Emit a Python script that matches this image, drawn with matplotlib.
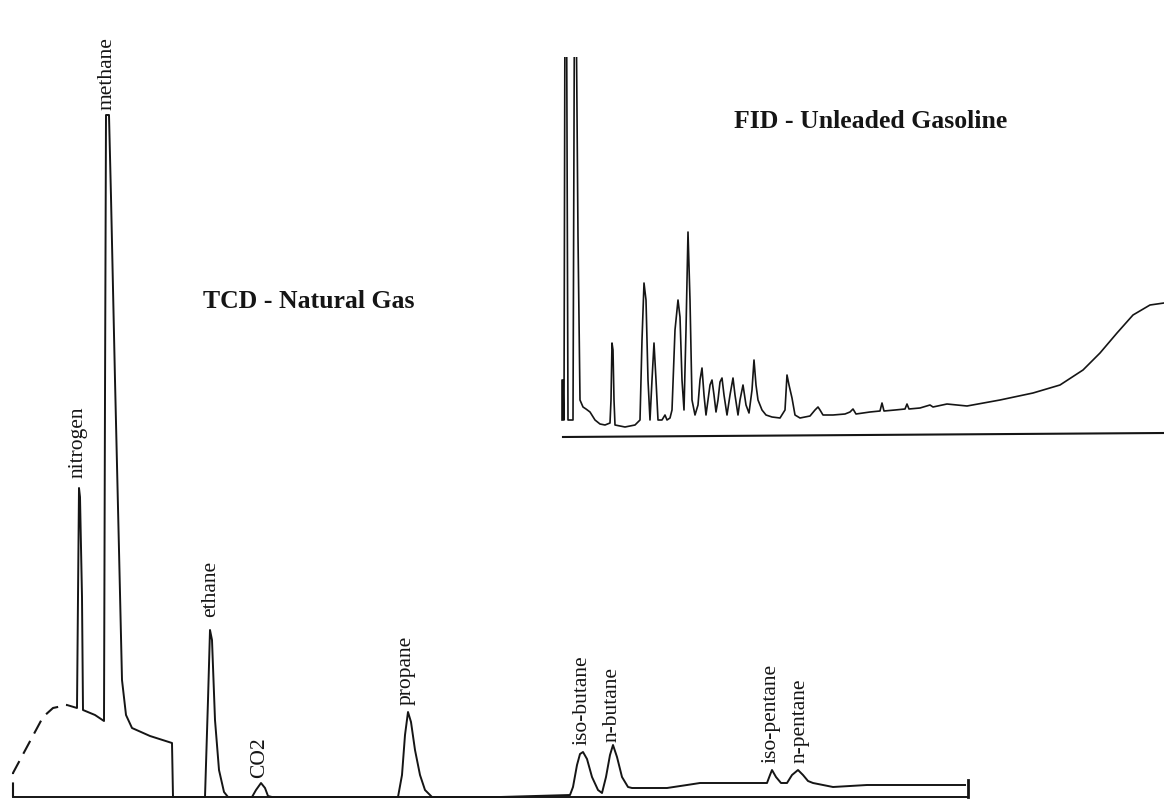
import matplotlib
matplotlib.use("Agg")
import matplotlib.pyplot as plt

# ── TCD - Natural Gas: trace (retention, signal above baseline) ──
tcd_t = [13, 13, 43, 53, 67, 77, 78, 79, 80, 82, 83, 95, 104, 105, 106,
         109, 111, 115, 119, 122, 126, 132, 150, 172, 173, 205, 208, 210,
         212, 215, 219, 224, 228, 252, 256, 261, 265, 268, 272, 398, 402,
         405, 408, 411, 415, 420, 425, 432, 500, 570, 573, 577, 580, 583,
         587, 592, 598, 602, 606, 610, 613, 617, 622, 628, 632, 667, 687,
         700, 767, 770, 772, 776, 781, 787, 792, 798, 803, 808, 813, 833,
         867, 900, 965]
tcd_s = [0, 24, 80, 89, 92, 89, 200, 309, 300, 200, 87, 82, 76, 400, 682,
         682, 600, 417, 247, 117, 82, 69, 61, 54, 0, 0, 97, 167,
         157, 77, 27, 5, 0, 0, 7, 14, 9, 1, 0, 0, 22,
         62, 85, 75, 47, 22, 7, 0, 0, 2, 10, 32, 43, 45,
         38, 20, 7, 4, 20, 42, 52, 40, 20, 10, 9, 9, 12,
         14, 14, 22, 27, 20, 14, 14, 22, 27, 22, 16, 14, 10,
         12, 12, 12]

# reference line under the TCD trace
ref_t = [13, 968]
ref_s = [0, 0]

# peak labels
peak_names = ["nitrogen", "methane", "ethane", "CO2", "propane",
              "iso-butane", "n-butane", "iso-pentane", "n-pentane"]
peak_x = [78, 107, 211, 260, 406, 582, 612, 771, 800]
label_s = [319, 687, 180, 19, 92, 52, 55, 34, 34]

# ── FID - Unleaded Gasoline: trace ──
fid_t = [562, 562, 563, 563.5, 564, 565, 566.5, 568, 573, 574.5, 576,
         578, 580, 583, 586, 590, 595, 600, 605, 610, 611, 612, 613, 614,
         615, 625, 635, 640, 642, 644, 646, 648, 650, 652, 654, 656, 658,
         662, 665, 667, 670, 672, 675, 678, 680, 682, 684, 686, 688, 690,
         692, 695, 698, 700, 702, 704, 706, 708, 710, 712, 714, 716, 718,
         720, 722, 724, 727, 730, 733, 735, 738, 740, 743, 746, 749, 752,
         754, 756, 758, 762, 766, 772, 780, 785, 787, 789, 792, 795, 800,
         810, 815, 818, 820, 823, 833, 845, 850, 853, 856, 870, 880, 882,
         884, 895, 905, 907, 909, 920, 930, 933, 947, 967, 1000, 1033,
         1060, 1083, 1100, 1117, 1133, 1150, 1164]
fid_s = [17, 57, 57, 17, 17, 450, 450, 17, 17, 450, 450,
         200, 37, 30, 28, 25, 17, 13, 12, 14, 37, 94, 87, 37,
         12, 10, 12, 17, 97, 154, 137, 57, 17, 57, 94, 57, 17,
         17, 22, 17, 19, 27, 107, 137, 120, 57, 27, 107, 205, 137,
         37, 22, 32, 57, 69, 42, 22, 37, 52, 57, 42, 25, 37,
         55, 59, 42, 22, 42, 59, 42, 22, 37, 52, 32, 24, 47,
         77, 52, 37, 27, 22, 20, 19, 27, 62, 52, 39, 22, 19,
         21, 27, 30, 27, 22, 22, 23, 25, 28, 23, 25, 26, 34,
         26, 27, 28, 33, 28, 29, 32, 30, 33, 31, 37, 44,
         52, 67, 84, 104, 122, 132, 134]

# FID time axis line (slightly tilted in the scan)
fid_axis_t = [563, 1164]
fid_axis_s = [0, 4]

INK = "#151515"
SERIF = ["Liberation Serif", "DejaVu Serif"]

fig = plt.figure(figsize=(11.64, 8.08), dpi=100)
fig.patch.set_facecolor("white")

# Hauptdiagramm (TCD)
ax = fig.add_axes([0, 0, 1, 1])
ax.set_xlim(0, 1164)
ax.set_ylim(-11, 797)
ax.axis("off")

ax.plot(tcd_t[:5], tcd_s[:5], color=INK, lw=1.5, ls=(0, (7, 4)))
ax.plot(tcd_t[4:], tcd_s[4:], color=INK, lw=1.4)
ax.plot(ref_t, ref_s, color=INK, lw=1.4)
ax.plot([ref_t[-1], ref_t[-1]], [ref_s[-1], tcd_s[-1] + 5], color=INK, lw=2)

for name, x, s in zip(peak_names, peak_x, label_s):
    ax.text(x, s, name, rotation=90, ha="center", va="bottom",
            fontsize=15.5, family=SERIF, color=INK)

ax.text(309, 495, "TCD - Natural Gas", ha="center", va="center",
        fontsize=18.5, fontweight="bold", family=SERIF, color=INK)

# Einsatz (FID)
ax2 = fig.add_axes([555 / 1164, (808 - 445) / 808, 609 / 1164, 388 / 808])
ax2.set_xlim(555, 1164)
ax2.set_ylim(-8, 380)
ax2.axis("off")
ax2.plot(fid_t, fid_s, color=INK, lw=1.2)
ax2.plot(fid_axis_t, fid_axis_s, color=INK, lw=1.5)

ax.text(871, 675, "FID - Unleaded Gasoline", ha="center", va="center",
        fontsize=18.5, fontweight="bold", family=SERIF, color=INK)

fig.savefig("out.png", dpi=100, facecolor="white")
